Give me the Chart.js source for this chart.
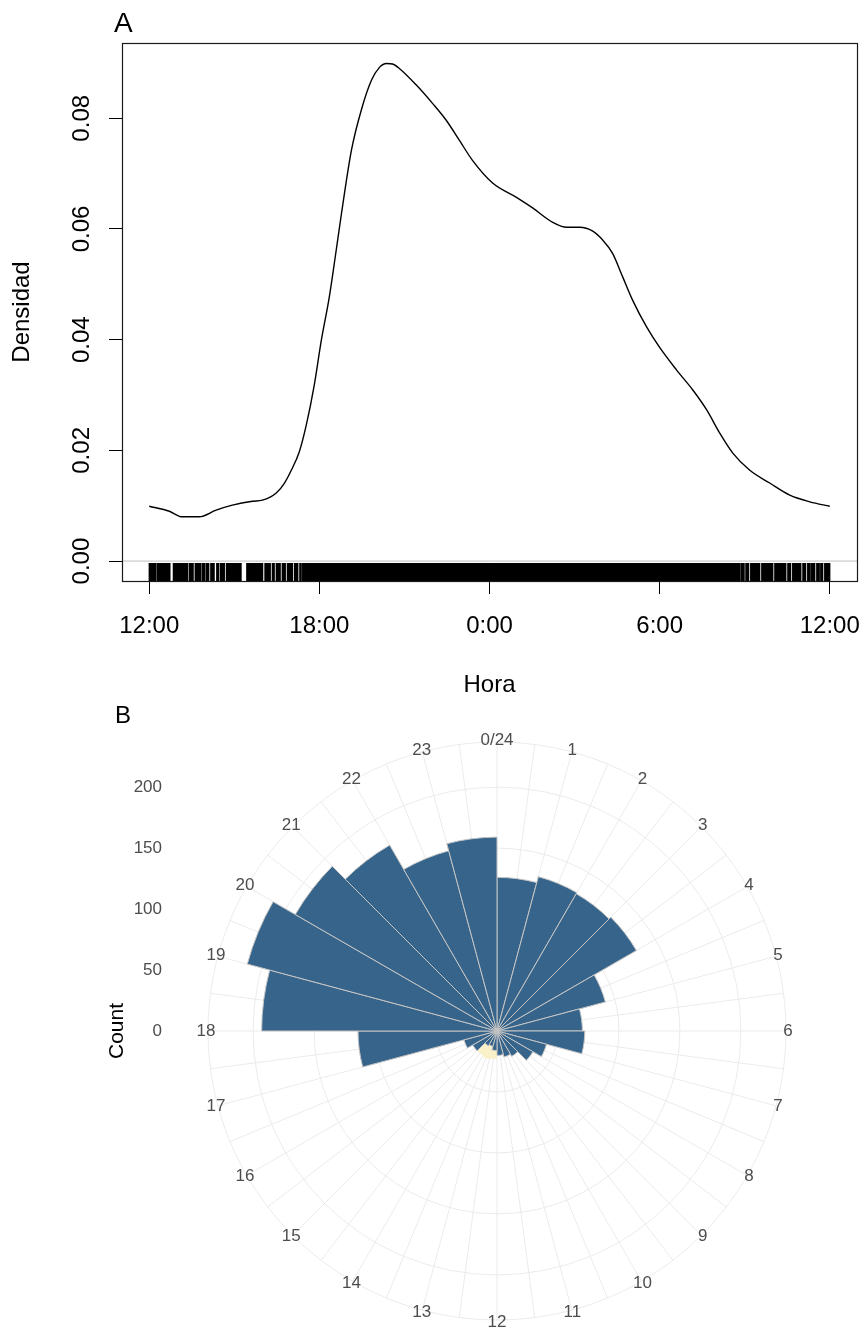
<!DOCTYPE html>
<html>
<head>
<meta charset="utf-8">
<title>Actividad por hora</title>
<script src="https://cdn.jsdelivr.net/npm/chart.js@4.4.1/dist/chart.umd.min.js"></script>
<style>
  html, body { margin: 0; padding: 0; background: #fff; }
  #wrap { position: relative; width: 861px; height: 1331px; overflow: hidden; }
  #wrap canvas { position: absolute; left: 0; }
  #densityChart { top: 0; }
  #roseChart { top: 700px; }
</style>
</head>
<body>
<div id="wrap">
  <canvas id="densityChart" width="861" height="700"></canvas>
  <canvas id="roseChart" width="861" height="631"></canvas>
</div>
<script>
// --- Panel A: kernel density of the hour (hours counted from 12:00) ---
const densityHours = [0, 0.71, 1.16, 1.76, 2.36, 2.93, 3.64, 3.99, 4.48, 4.77,
    5.01, 5.29, 5.54, 5.82, 6.07, 6.35, 6.57, 6.78, 7.13, 7.48,
    7.84, 8.12, 8.37, 8.58, 8.82, 9.42, 9.99, 10.48, 10.94, 11.40,
    12.11, 12.95, 13.52, 14.23, 14.72, 15.18, 15.64, 15.99, 16.34, 16.70,
    17.05, 17.54, 18.00, 18.60, 19.17, 19.66, 20.12, 20.58, 21.18, 21.88,
    22.59, 23.30, 24.0];
const densityValues = [0.0099, 0.0090, 0.0080, 0.0080, 0.0092, 0.0101, 0.0108, 0.0110, 0.0123, 0.0141,
    0.0164, 0.0197, 0.0246, 0.0318, 0.0399, 0.0477, 0.0553, 0.0628, 0.0742, 0.0815,
    0.0869, 0.0892, 0.0899, 0.0898, 0.0890, 0.0860, 0.0827, 0.0796, 0.0760, 0.0724,
    0.0683, 0.0657, 0.0638, 0.0612, 0.0603, 0.0603, 0.0596, 0.0580, 0.0556, 0.0513,
    0.0471, 0.0423, 0.0386, 0.0345, 0.0309, 0.0273, 0.0231, 0.0195, 0.0164, 0.0141,
    0.0119, 0.0107, 0.0099];

// rug: runs of observations along the hour axis, [from, to]
const rugSpans = [
    [0.00, 0.24], [0.29, 0.73], [0.85, 1.35], [1.41, 1.55], [1.62, 1.82], [1.87, 1.96],
    [2.01, 2.10], [2.17, 2.29], [2.38, 2.45], [2.51, 2.65], [2.72, 3.24], [3.44, 4.00],
    [4.08, 4.27], [4.34, 4.41], [4.48, 4.62], [4.69, 4.80], [4.87, 5.05], [5.12, 5.24],
    [5.31, 5.36], [5.41, 20.84], [20.89, 20.98], [21.04, 21.14], [21.21, 21.53],
    [21.60, 21.99], [22.06, 22.45], [22.52, 22.62], [22.69, 22.98], [23.05, 23.15],
    [23.22, 23.31], [23.36, 23.47], [23.54, 23.63], [23.68, 23.75], [23.82, 24.00]
];

const xTickValues = [0, 6, 12, 18, 24];
const xTickLabels = ['12:00', '18:00', '0:00', '6:00', '12:00'];
const yTickValues = [0, 0.02, 0.04, 0.06, 0.08];
const xMin = -0.96, xMax = 24.96;
const yMin = -0.0036, yMax = 0.0936;

// --- Panel B: counts per hour ---
const hourLabels = ['0/24', '1', '2', '3', '4', '5', '6', '7', '8', '9', '10', '11',
    '12', '13', '14', '15', '16', '17', '18', '19', '20', '21', '22', '23'];
const hourCounts = [126, 131, 130, 132, 92, 70, 72, 42, 34, 24, 22, 20,
    16, 13, 14, 23, 28, 114, 193, 212, 191, 176, 153, 159];
const lightCounts = [0, 0, 0, 0, 0, 0, 0, 0, 0, 0, 0, 0,
    23, 24, 23, 0, 0, 0, 0, 0, 0, 0, 0, 0];
const countTicks = [0, 50, 100, 150, 200];
const countMax = 237;

const FONT = "'Liberation Sans', Arial, Helvetica, sans-serif";
Chart.defaults.font.family = FONT;

// R-like frame, rug and panel letter
const rBasePlot = {
    id: 'rBasePlot',
    afterDatasetsDraw(chart) {
        const {ctx, chartArea, scales: {x}} = chart;
        ctx.save();
        ctx.fillStyle = '#000';
        rugSpans.forEach(([a, b]) => {
            const x1 = x.getPixelForValue(a);
            const x2 = x.getPixelForValue(b);
            ctx.fillRect(x1 - 0.6, chartArea.bottom - 18, Math.max(x2 - x1, 0) + 1.2, 18);
        });
        ctx.restore();
    },
    afterDraw(chart) {
        const {ctx, chartArea} = chart;
        ctx.save();
        ctx.strokeStyle = '#1a1a1a';
        ctx.lineWidth = 1.2;
        ctx.strokeRect(chartArea.left + 0.5, chartArea.top + 0.5,
            chartArea.right - chartArea.left, chartArea.bottom - chartArea.top);
        ctx.fillStyle = '#000';
        ctx.font = '28px ' + FONT;
        ctx.textBaseline = 'alphabetic';
        ctx.fillText('A', 114, 32);
        ctx.restore();
    }
};

new Chart(document.getElementById('densityChart'), {
    type: 'line',
    data: {
        datasets: [
            {
                label: 'Densidad',
                data: densityHours.map((h, i) => ({x: h, y: densityValues[i]})),
                borderColor: '#000',
                borderWidth: 1.4,
                pointRadius: 0,
                cubicInterpolationMode: 'monotone',
                fill: false
            },
            {
                label: 'h0',
                data: [{x: xMin, y: 0}, {x: xMax, y: 0}],
                borderColor: '#bebebe',
                borderWidth: 1,
                pointRadius: 0,
                fill: false
            }
        ]
    },
    options: {
        responsive: false,
        animation: false,
        devicePixelRatio: 1,
        layout: {padding: {top: 43, right: 4, left: 0, bottom: 0}},
        plugins: {legend: {display: false}, tooltip: {enabled: false}},
        scales: {
            x: {
                type: 'linear',
                min: xMin,
                max: xMax,
                afterBuildTicks: (s) => { s.ticks = xTickValues.map(v => ({value: v})); },
                afterFit: (s) => { s.height = 119; s.paddingLeft = 0; s.paddingRight = 0; },
                ticks: {
                    callback: (v, i) => xTickLabels[i],
                    font: {size: 24},
                    color: '#000',
                    padding: 18,
                    maxRotation: 0,
                    autoSkip: false
                },
                grid: {drawOnChartArea: false, tickLength: 13, color: '#000', lineWidth: 1},
                border: {display: false},
                title: {display: true, text: 'Hora', font: {size: 24}, color: '#000', padding: 0}
            },
            y: {
                type: 'linear',
                min: yMin,
                max: yMax,
                afterBuildTicks: (s) => { s.ticks = yTickValues.map(v => ({value: v})); },
                afterFit: (s) => { s.width = 122; s.paddingTop = 0; s.paddingBottom = 0; },
                ticks: {
                    callback: (v) => v.toFixed(2),
                    minRotation: 90,
                    maxRotation: 90,
                    crossAlign: 'center',
                    padding: 3,
                    font: {size: 24},
                    color: '#000'
                },
                grid: {drawOnChartArea: false, tickLength: 13, color: '#000', lineWidth: 1},
                border: {display: false},
                title: {display: true, text: 'Densidad', font: {size: 24}, color: '#000', padding: {top: 8, bottom: 0}}
            }
        }
    },
    plugins: [rBasePlot]
});

// ggplot-like polar decorations: half-hour spokes, hour labels, count axis
const roseDecor = {
    id: 'roseDecor',
    beforeDatasetsDraw(chart) {
        const {ctx} = chart;
        const r = chart.scales.r;
        ctx.save();
        ctx.strokeStyle = '#ebebeb';
        ctx.lineWidth = 1;
        for (let k = 0; k < hourLabels.length * 2; k++) {
            const p = r.getPointPosition(k / 2, r.drawingArea);
            ctx.beginPath();
            ctx.moveTo(r.xCenter, r.yCenter);
            ctx.lineTo(p.x, p.y);
            ctx.stroke();
        }
        ctx.restore();
    },
    afterDraw(chart) {
        const {ctx} = chart;
        const r = chart.scales.r;
        ctx.save();
        ctx.fillStyle = '#4d4d4d';
        ctx.font = '17px ' + FONT;
        ctx.textAlign = 'center';
        ctx.textBaseline = 'middle';
        hourLabels.forEach((lab, i) => {
            const p = r.getPointPosition(i, r.drawingArea + 2);
            ctx.fillText(lab, p.x, p.y);
        });
        ctx.textAlign = 'right';
        countTicks.forEach(v => {
            ctx.fillText(String(v), 162, r.yCenter - r.getDistanceFromCenterForValue(v));
        });
        ctx.fillStyle = '#000';
        ctx.font = '21px ' + FONT;
        ctx.textAlign = 'center';
        ctx.translate(117, r.yCenter);
        ctx.rotate(-Math.PI / 2);
        ctx.fillText('Count', 0, 0);
        ctx.restore();

        ctx.save();
        ctx.fillStyle = '#000';
        ctx.font = '24px ' + FONT;
        ctx.textBaseline = 'alphabetic';
        ctx.fillText('B', 115, 23);
        ctx.restore();
    }
};

new Chart(document.getElementById('roseChart'), {
    type: 'polarArea',
    data: {
        labels: hourLabels,
        datasets: [
            {
                label: 'Count',
                data: hourCounts,
                backgroundColor: '#36648b',
                borderColor: '#c4c4c4',
                borderWidth: 1
            },
            {
                label: 'Count (claro)',
                data: lightCounts,
                backgroundColor: '#fbf1c8',
                borderWidth: 0
            }
        ]
    },
    options: {
        responsive: false,
        animation: false,
        devicePixelRatio: 1,
        layout: {padding: {left: 208, right: 75, top: 42, bottom: 11}},
        plugins: {legend: {display: false}, tooltip: {enabled: false}},
        scales: {
            r: {
                min: 0,
                max: countMax,
                startAngle: 0,
                afterBuildTicks: (s) => { s.ticks = countTicks.concat([countMax]).map(v => ({value: v})); },
                ticks: {display: false},
                grid: {circular: true, color: '#ebebeb', lineWidth: 1},
                angleLines: {display: false},
                pointLabels: {display: false}
            }
        }
    },
    plugins: [roseDecor]
});
</script>
</body>
</html>
